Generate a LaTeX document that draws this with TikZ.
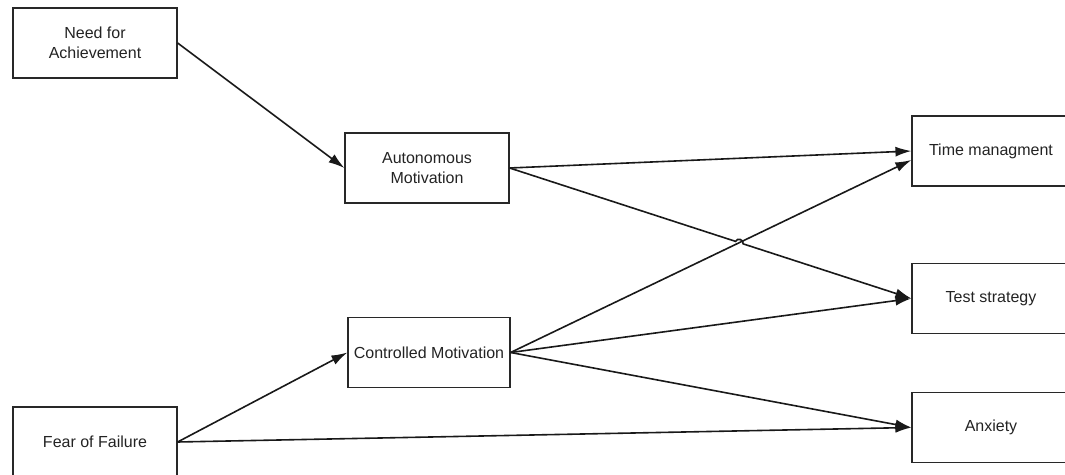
\documentclass[tikz,border=0pt]{standalone}
\usepackage{fontspec}
\setmainfont{Liberation Sans}
\usepackage{tikz}
\usetikzlibrary{arrows.meta,positioning,calc}
\definecolor{boxLine}{RGB}{40,40,40}
\definecolor{boxText}{RGB}{35,35,35}

\begin{document}
\begin{tikzpicture}[
  x=0.5pt,y=-0.5pt,
  box/.style={draw=boxLine,line width=0.6pt,align=center,minimum width=82pt,minimum height=35pt,
    inner sep=0pt,text=boxText,font=\fontsize{8pt}{10pt}\selectfont},
  wbox/.style={box,minimum width=79pt},
  arrow/.style={-{Latex[length=8pt,width=5pt]},line width=0.8pt,draw=black!90}
]
  \useasboundingbox (0,0) rectangle (1065,475);
  \node[box] (ach) at (95,43) {Need for\\Achievement};
  \node[box] (auto) at (427,168) {Autonomous\\Motivation};
  \node[box,minimum width=81pt] (ctrl) at (429,352.5) {Controlled Motivation};
  \node[box] (fear) at (95,442) {Fear of Failure};
  \node[wbox] (time) at (991,151) {Time managment};
  \node[wbox] (test) at (991,298.5) {Test strategy};
  \node[wbox] (anx) at (991,427.5) {Anxiety};
  \draw[arrow] (ach.east) -- (auto.west);
  \draw[arrow] (fear.east) -- (ctrl.west);
  \draw[arrow] (fear.east) -- (anx.west);
  \draw[arrow] (auto.east) -- (time.west);
  % line jump where it crosses ctrl -> time
  \draw[arrow] (auto.east) -- ($(auto.east)!0.5623!(test.west)$)
    to[bend left=90,looseness=1.4] ($(auto.east)!0.5811!(test.west)$) -- (test.west);
  \draw[arrow] (ctrl.east) -- ([yshift=-4.5pt]time.west);
  \draw[arrow] (ctrl.east) -- (test.west);
  \draw[arrow] (ctrl.east) -- (anx.west);
\end{tikzpicture}
\end{document}
